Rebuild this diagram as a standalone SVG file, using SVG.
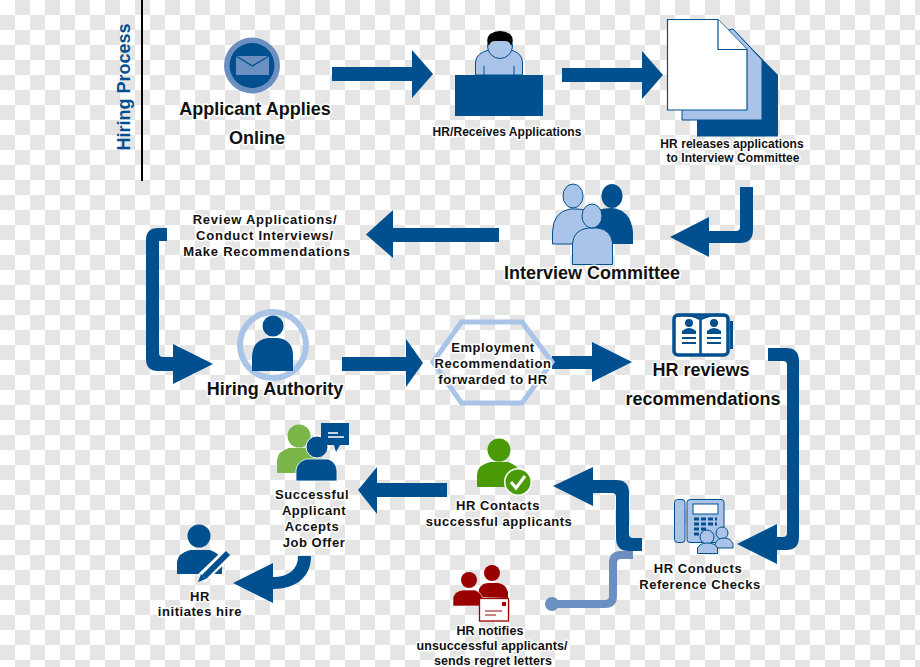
<svg xmlns="http://www.w3.org/2000/svg" width="920" height="667" viewBox="0 0 920 667">
<style>
text{font-family:"Liberation Sans",Arial,sans-serif;font-weight:bold;text-anchor:middle;fill:#111;paint-order:stroke;stroke:#fff;stroke-width:3px;stroke-linejoin:round}
.s{font-size:13px;letter-spacing:.55px}
.r{font-size:13px;letter-spacing:.75px}
.n{font-size:12.5px;letter-spacing:.1px}
.l{font-size:18px}
.m{font-size:12px;letter-spacing:.05px}
.d{fill:#00508f}
.a{fill:#a9c4e8;stroke:#00508f;stroke-width:1}
.c{fill:#00508f}
.w{fill:#fff;stroke:#00508f;stroke-width:1.2}
</style>
<defs>
<pattern id="chk" width="30" height="30" patternUnits="userSpaceOnUse"><rect width="30" height="30" fill="#fff"/><rect x="15" width="15" height="15" fill="#e5e5e5"/><rect y="15" width="15" height="15" fill="#e5e5e5"/></pattern>
</defs>
<rect id="background" width="920" height="667" fill="url(#chk)"/>
<g id="connectors">
<path class="c" d="M332 67H412V50L433 74L412 98V81H332Z"/>
<path class="c" d="M562 68H642V51L663 75L642 99V82H562Z"/>
<path class="c" d="M740 187H753V230Q753 243 740 243H709V257L670 237L709 217V231H736Q740 231 740 227Z"/>
<path class="c" d="M499 228V242H393V258L366 234.500L393 210V228Z"/>
<path class="c" d="M167 228V241H159V353Q159 357 163 357H173V344L213 364L173 384V371H158Q146 371 146 359V240Q146 228 158 228Z"/>
<path class="c" d="M342 357H406V339L423 363L406 387V371H342Z"/>
<path class="c" d="M552 356H592V342L632 362L592 382V369H552Z"/>
<path class="c" d="M768 348H786Q799 348 799 361V537Q799 550 786 550H777V564L737 544L777 524V537H783Q787 537 787 533V365Q787 361 783 361H768Z"/>
<path class="c" d="M642 538V551H629Q616 551 616 538V497Q616 493 612 493H593V506L553 486L593 467V480H616Q629 480 629 493V534Q629 538 633 538Z"/>
<path d="M552 604H605Q613 604 613 596V563Q613 555 621 555H633" fill="none" stroke="#6a8fc0" stroke-width="8"/>
<circle cx="552" cy="604" r="7" fill="#6a8fc0"/>
<path class="c" d="M377 483H447V497H377V514L358 490L377 467Z"/>
<path class="c" d="M298 556C298 570 288 577 273 577V563L233 583L273 603V589C295 589 311 578 311 556Z"/>
</g>
<g id="hiring-process">
<line x1="142" y1="0" x2="142" y2="181" stroke="#000" stroke-width="2"/>
<text class="l" transform="translate(130 87) rotate(-90)" style="fill:#00508f;stroke:none">Hiring Process</text>
</g>
<g id="applicant-applies">
<circle cx="252" cy="65.500" r="28" fill="#6a8fc0"/>
<circle cx="252" cy="65.500" r="22.500" class="d"/>
<rect x="236" y="56" width="33" height="19" fill="#6a8fc0"/>
<path d="M236 56L252.500 66L269 56" fill="none" stroke="#00508f" stroke-width="1.300"/>
<text class="l" x="255" y="115">Applicant Applies</text>
<text class="l" x="257" y="144">Online</text>
</g>
<g id="hr-receives">
<path class="a" d="M475.500 75V62Q476 53 489 50H511Q522 53 522.500 62V75Z"/>
<path d="M484 75V66M514 75V66" stroke="#00508f" fill="none"/>
<circle cx="500" cy="46" r="12.500" fill="#a9c4e8" stroke="#00508f"/>
<path d="M489 46Q485 39 490 34Q500 28 510 34Q515 39 511 46Q510 41 505 41H495Q490 41 489 46Z" fill="#000"/>
<rect x="455" y="75" width="88" height="41" class="d"/>
<text class="m" x="507" y="136">HR/Receives Applications</text>
</g>
<g id="hr-releases">
<path class="d" d="M697 60H733L778 75V136.500H697Z"/>
<path class="d" d="M733 29L778 75H733Z"/>
<path class="a" d="M682 120V30H729L733 29L762 60V120Z"/>
<path class="w" d="M667.500 19.500H718L747 49.500V110H667.500Z"/>
<path class="w" d="M718 19.500V49.500H747"/>
<text class="m" x="732" y="148">HR releases applications</text>
<text class="m" x="733" y="162">to Interview Committee</text>
</g>
<g id="interview-committee">
<path class="d" d="M590 244V215Q597 208 612 208Q631 210 633 232V244Z"/>
<ellipse cx="612" cy="196" rx="10.500" ry="12" class="d"/>
<path class="a" d="M552.500 244V232Q553 212 570 209H578Q590 210 592 216V244Z"/>
<ellipse cx="573" cy="196" rx="10" ry="12" class="a"/>
<path class="a" d="M572.500 264.500V243Q574 230 588 228H598Q611 230 612.500 243V264.500Z"/>
<ellipse cx="592" cy="216" rx="10" ry="12" class="a"/>
<text class="l" x="592" y="279">Interview Committee</text>
</g>
<g id="review-applications">
<text class="r" x="265" y="224">Review Applications/</text>
<text class="r" x="265" y="240">Conduct Interviews/</text>
<text class="r" x="267" y="256">Make Recommendations</text>
</g>
<g id="hiring-authority">
<circle cx="273" cy="345" r="33" fill="none" stroke="#a9c4e8" stroke-width="6"/>
<circle cx="273" cy="326" r="10.500" class="d"/>
<path class="d" d="M252 371V358Q252 340 268 338H278Q294 340 293 358V371Z"/>
<text class="l" x="275" y="395">Hiring Authority</text>
</g>
<g id="employment-recommendation">
<polygon points="433,362 461.500,322 522,322 552,362 522,403 461.500,403" fill="none" stroke="#a9c4e8" stroke-width="5"/>
<text class="s" x="493" y="352">Employment</text>
<text class="s" x="493" y="368">Recommendation</text>
<text class="s" x="493" y="384">forwarded to HR</text>
</g>
<g id="hr-reviews">
<path d="M730 321H733V349H730Z" class="d"/>
<rect x="674" y="315" width="54" height="40" rx="4" fill="#fff" stroke="#00508f" stroke-width="3.500"/>
<path d="M700 319Q690 313 676 316M701 319Q712 313 726 316" fill="none" stroke="#00508f" stroke-width="2.500"/>
<line x1="700.500" y1="316" x2="700.500" y2="355" stroke="#00508f" stroke-width="2.500"/>
<circle cx="689" cy="323" r="4" class="d"/><circle cx="714" cy="323" r="4" class="d"/>
<path class="d" d="M682 334V331Q689 325 696 331V334ZM707 334V331Q714 325 721 331V334Z"/>
<path d="M682 338H696M682 343H696M707 338H721M707 343H721" stroke="#00508f" stroke-width="2" fill="none"/>
<text class="l" x="701" y="376">HR reviews</text>
<text class="l" x="703" y="405">recommendations</text>
</g>
<g id="hr-conducts">
<rect x="674.500" y="499.500" width="10.500" height="43" rx="3" class="a"/>
<rect x="687" y="499.500" width="37" height="43" rx="3" class="a"/>
<rect x="693" y="504" width="25" height="10" fill="#fff" stroke="#00508f"/>
<path d="M694 519H717M694 524H717M694 529H706M694 534H704" stroke="#00508f" stroke-width="3" stroke-dasharray="5 2" fill="none"/>
<circle cx="722" cy="533" r="6" class="a"/>
<path class="a" d="M715 548V544Q717 538 724 538Q731 538 733 544V548Z"/>
<circle cx="707" cy="537" r="7" class="a"/>
<path class="a" d="M697.500 553.500V548Q700 543 707 543Q715 543 717.500 548V553.500Z"/>
<text class="s" x="698" y="573">HR Conducts</text>
<text class="s" x="700" y="589">Reference Checks</text>
</g>
<g id="hr-contacts">
<circle cx="499" cy="450" r="11.500" fill="#4a9a06"/>
<path d="M477 487V474Q478 465 490 462H508Q518 465 520 474V487Z" fill="#4a9a06"/>
<circle cx="518" cy="482" r="14" fill="#fff"/>
<circle cx="518" cy="482" r="12.500" fill="#4a9a06"/>
<path d="M511 482L516 488L525 476" fill="none" stroke="#fff" stroke-width="3"/>
<text class="s" x="498" y="510">HR Contacts</text>
<text class="s" x="499" y="526">successful applicants</text>
</g>
<g id="successful-applicant">
<circle cx="299" cy="436" r="11.500" fill="#7ab648"/>
<path d="M277 473V460Q278 451 289 448H309Q320 450 322 460V473Z" fill="#7ab648"/>
<circle cx="317" cy="447" r="11" fill="#00508f" stroke="#fff"/>
<path class="d" d="M296 481V470Q297 462 306 459H328Q336 462 337 470V481Z" stroke="#fff" stroke-width=".8"/>
<path class="d" d="M321 423H349V445H340L336 452L334 445H321Z"/>
<path d="M328 433H338M328 437H344" stroke="#fff" stroke-width="1.500"/>
<text class="s" x="312" y="499">Successful</text>
<text class="s" x="314" y="515">Applicant</text>
<text class="s" x="312" y="531">Accepts</text>
<text class="s" x="314" y="547">Job Offer</text>
</g>
<g id="hr-initiates">
<circle cx="199" cy="536" r="11.500" class="d"/>
<path class="d" d="M177 574V562Q178 553 190 550H210Q220 553 222 562V574Z"/>
<path d="M228 553L201 579" stroke="#fff" stroke-width="11"/>
<path d="M228 553L204 577" stroke="#00508f" stroke-width="6"/>
<path d="M201 574L206 579L198 582Z" class="d"/>
<text class="s" x="200" y="601">HR</text>
<text class="s" x="200" y="616">initiates hire</text>
</g>
<g id="hr-notifies">
<circle cx="492" cy="573" r="8" fill="#990000"/>
<path d="M479 597V589Q482 583 488 583H498Q506 584 508 592V598Z" fill="#990000"/>
<circle cx="469" cy="580" r="8" fill="#990000"/>
<path d="M453 606V597Q455 591 463 590H475Q481 592 483 598V606Z" fill="#990000" stroke="#fff" stroke-width=".6"/>
<rect x="479.500" y="598.500" width="29" height="22.500" fill="#fff" stroke="#990000" stroke-width="1.300"/>
<rect x="502" y="602" width="4" height="4" fill="#990000"/>
<path d="M485 611H502M485 615H496" stroke="#990000" fill="none"/>
<text class="n" x="490" y="635">HR notifies</text>
<text class="n" x="492" y="650">unsuccessful applicants/</text>
<text class="n" x="493" y="665">sends regret letters</text>
</g>
</svg>
